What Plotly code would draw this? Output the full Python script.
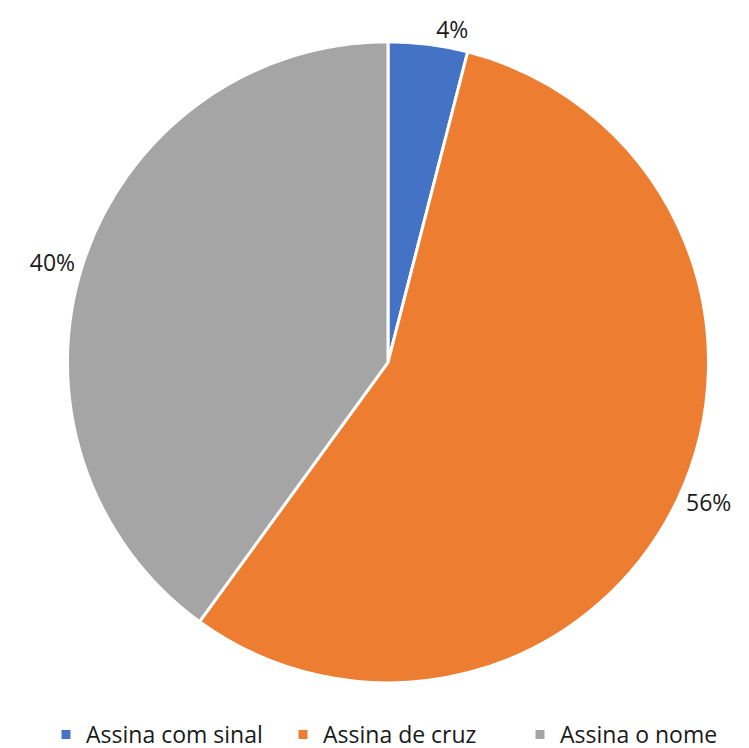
import plotly.graph_objects as go

labels = ["Assina com sinal", "Assina de cruz", "Assina o nome"]
values = [4, 56, 40]
colors = ["#4472C4", "#ED7D31", "#A5A5A5"]

W, H = 749, 748
FONT = "Open Sans"

fig = go.Figure(go.Pie(
    labels=labels,
    values=values,
    sort=False,
    direction="clockwise",
    rotation=0,
    marker=dict(colors=colors, line=dict(color="white", width=3)),
    texttemplate="%{percent:.0%}",
    textposition="outside",
    textfont=dict(family=FONT, size=23, color="#1a1a1a"),
    domain=dict(x=[44 / W, 708 / W], y=[(H - 672) / H, (H - 6) / H]),
    hoverinfo="skip",
))
fig.update_layout(
    width=W, height=H,
    margin=dict(l=0, r=0, t=0, b=0),
    paper_bgcolor="white",
    showlegend=True,
    legend=dict(orientation="h", x=52 / W, xanchor="left", y=0.0, yanchor="bottom",
                font=dict(family=FONT, size=23, color="#1a1a1a"),
                itemwidth=30, traceorder="normal",
                entrywidth=192, entrywidthmode="pixels"),
)
fig.write_html("out.html")
